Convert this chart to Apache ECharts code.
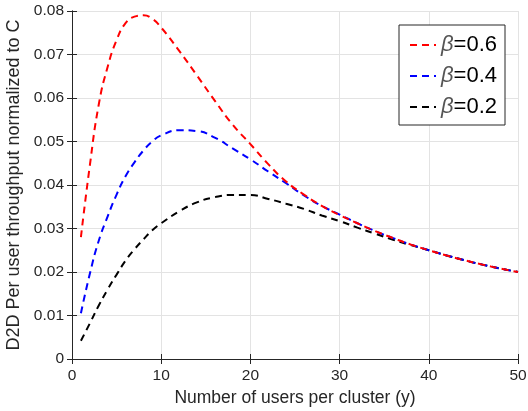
<!DOCTYPE html>
<html>
<head>
<meta charset="utf-8">
<script src="https://cdn.jsdelivr.net/npm/echarts@6/dist/echarts.min.js"></script>
<style>
  html, body { margin: 0; padding: 0; background: #fff; }
  #chart { width: 528px; height: 411px; }
</style>
</head>
<body>
<div id="chart"></div>
<script>
// users per cluster (y)
const users = [1, 2, 3, 4, 5, 6, 7, 8, 9, 10, 12, 14, 16, 18, 20, 22, 24, 26, 28, 30,
  32, 34, 36, 38, 40, 42, 44, 46, 48, 50];

// per user throughput
const beta06 = [0.0280, 0.0445, 0.0585, 0.0672, 0.0733, 0.0772, 0.0787, 0.0790, 0.0782, 0.0762,
  0.0709, 0.0652, 0.0594, 0.0539, 0.0494, 0.0448, 0.0408, 0.0378, 0.0352, 0.0331,
  0.0312, 0.0294, 0.0278, 0.0263, 0.0250, 0.0238, 0.0227, 0.0217, 0.0208, 0.0200];
const beta04 = [0.0105, 0.0196, 0.0272, 0.0328, 0.0378, 0.0420, 0.0452, 0.0479, 0.0500, 0.0514,
  0.0526, 0.0524, 0.0509, 0.0484, 0.0459, 0.0431, 0.0404, 0.0376, 0.0352, 0.0332,
  0.0312, 0.0294, 0.0278, 0.0263, 0.0250, 0.0238, 0.0227, 0.0217, 0.0208, 0.0200];
const beta02 = [0.0042, 0.0082, 0.0123, 0.0160, 0.0194, 0.0226, 0.0252, 0.0275, 0.0296, 0.0312,
  0.0339, 0.0360, 0.0372, 0.0377, 0.0377, 0.0368, 0.0357, 0.0345, 0.0330, 0.0317,
  0.0302, 0.0288, 0.0274, 0.0262, 0.0250, 0.0238, 0.0227, 0.0217, 0.0208, 0.0200];

const names = ['0.6', '0.4', '0.2'];
const colors = ['#ff0000', '#0000ff', '#000000'];
const values = [beta06, beta04, beta02];

const font = 'Liberation Sans, Arial, Helvetica, sans-serif';
const axisColor = '#262626';

const chart = echarts.init(document.getElementById('chart'), null, { renderer: 'canvas' });

const series = names.map((n, i) => ({
  name: n,
  type: 'line',
  smooth: true,
  symbol: 'none',
  data: users.map((u, j) => [u, values[i][j]]),
  lineStyle: { color: colors[i], width: 2, type: [7, 5] },
  itemStyle: { color: colors[i] },
  z: 3 - i
}));

const baseX = {
  type: 'value', min: 0, max: 50, interval: 10,
  axisLine: { show: true, lineStyle: { color: axisColor, width: 1 } },
  axisTick: { show: true, inside: true, length: 5, lineStyle: { color: axisColor } },
  splitLine: { show: false }
};
const baseY = {
  type: 'value', min: 0, max: 0.08, interval: 0.01,
  axisLine: { show: true, lineStyle: { color: axisColor, width: 1 } },
  axisTick: { show: true, inside: true, length: 5, lineStyle: { color: axisColor } },
  splitLine: { show: false }
};

chart.setOption({
  backgroundColor: '#fff',
  animation: false,
  grid: { left: 72, right: 10, top: 11, bottom: 52, containLabel: false, outerBoundsMode: 'none' },
  legend: {
    right: 23, top: 25,
    orient: 'vertical',
    itemWidth: 26, itemHeight: 14, itemGap: 9,
    padding: [9, 8, 7, 10],
    borderColor: axisColor, borderWidth: 1,
    backgroundColor: '#fff',
    data: names,
    itemStyle: { opacity: 0 },
    lineStyle: { width: 2, type: [7, 5] },
    formatter: n => '{b|β}{t|=' + n + '}',
    textStyle: {
      rich: {
        b: { fontFamily: font, fontSize: 22, fontStyle: 'italic', color: '#555' },
        t: { fontFamily: font, fontSize: 22, color: '#000' }
      }
    }
  },
  xAxis: [
    Object.assign({}, baseX, {
      name: 'Number of users per cluster (y)',
      nameLocation: 'middle', nameGap: 27,
      nameTextStyle: { fontFamily: font, fontSize: 17.5, color: axisColor },
      axisLabel: { fontFamily: font, fontSize: 15.5, color: axisColor, margin: 9 },
      splitLine: { show: true, lineStyle: { color: '#e3e3e3', width: 1 } }
    }),
    Object.assign({}, baseX, { position: 'top', axisLabel: { show: false } })
  ],
  yAxis: [
    Object.assign({}, baseY, {
      name: 'D2D Per user throughput normalized to C',
      nameLocation: 'middle', nameGap: 44,
      nameTextStyle: { fontFamily: font, fontSize: 18, color: axisColor },
      axisLabel: {
        fontFamily: font, fontSize: 15.5, color: axisColor, margin: 8,
        formatter: v => (v === 0 ? '0' : v.toFixed(2))
      },
      splitLine: { show: true, lineStyle: { color: '#e3e3e3', width: 1 } }
    }),
    Object.assign({}, baseY, { position: 'right', axisLabel: { show: false } })
  ],
  series: series
});
</script>
</body>
</html>
